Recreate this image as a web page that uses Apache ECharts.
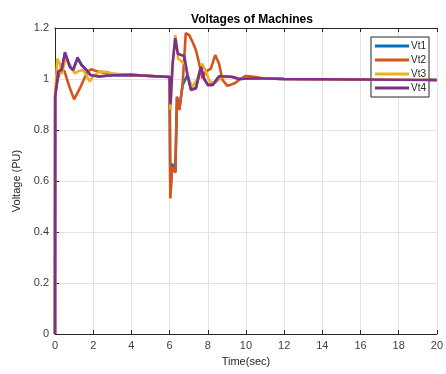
<!DOCTYPE html>
<html><head><meta charset="utf-8">
<script src="https://cdn.jsdelivr.net/npm/echarts@6/dist/echarts.min.js"></script>
<style>html,body{margin:0;padding:0;background:#fff}#c{width:446px;height:374px}</style>
</head><body><div id="c"></div>
<script>
var seriesNames = ['Vt1','Vt2','Vt3','Vt4'];
var colors = ['#0072BD','#D95319','#EDB120','#7E2F8E'];
var xTicks = [0,2,4,6,8,10,12,14,16,18,20];
var yTicks = [0,0.2,0.4,0.6,0.8,1,1.2];

var t1 = [0,0.01,0.17,0.35,0.52,0.78,0.95,1.18,1.39,1.65,1.85,2.3,3,4,5,6.0,6.04,6.14,6.3,6.39,6.51,6.68,6.94,7.12,7.38,7.64,7.81,8.0,8.25,8.59,8.94,9.3,9.64,10.5,12,14,16,18,20];
var v1 = [0,0.93,1.03,1.035,1.1,1.048,1.035,1.08,1.055,1.035,1.016,1.01,1.015,1.016,1.012,1.008,0.545,0.668,0.633,0.93,0.88,0.976,1.016,0.96,0.965,1.045,1.0,0.978,0.978,1.01,1.01,1.008,1.0,1.003,1.0,0.999,0.998,0.997,0.996];

var t2 = [0,0.01,0.15,0.3,0.5,0.75,1.0,1.3,1.5,1.7,1.9,2.2,2.7,3.2,4,5,6.0,6.04,6.13,6.3,6.39,6.51,6.68,6.85,7.03,7.2,7.38,7.55,7.72,7.9,8.16,8.39,8.59,8.77,9.03,9.38,9.64,9.98,10.3,11,12,14,16,18,20];
var v2 = [0,0.95,1.0,1.04,1.03,0.97,0.92,0.963,0.996,1.029,1.038,1.03,1.022,1.018,1.015,1.012,1.008,0.532,0.656,0.633,0.93,0.878,0.976,1.18,1.172,1.146,1.114,1.061,1.002,1.029,1.041,1.094,1.061,0.996,0.973,0.982,0.996,1.012,1.01,1.002,1.0,0.999,0.998,0.997,0.996];

var t3 = [0,0.01,0.12,0.25,0.35,0.55,0.78,1.04,1.22,1.48,1.68,1.82,2.0,2.34,2.78,3.1,4,5,6.0,6.05,6.15,6.3,6.45,6.6,6.8,7.0,7.2,7.45,7.7,7.9,8.1,8.4,8.7,9.2,9.7,10.5,12,14,16,18,20];
var v3 = [0,0.94,1.08,1.06,1.02,1.08,1.055,1.022,1.03,1.035,1.01,0.99,1.01,1.03,1.026,1.02,1.016,1.012,1.008,0.88,1.05,1.173,1.08,1.07,1.06,1.0,0.97,1.0,1.06,1.03,0.99,0.985,1.005,1.01,1.0,1.003,1.0,0.999,0.998,0.997,0.996];

var t4 = [0,0.01,0.17,0.35,0.52,0.78,0.95,1.18,1.39,1.65,1.85,2.3,3,4,5,6.0,6.05,6.16,6.3,6.43,6.6,6.77,6.94,7.12,7.38,7.64,7.81,8.0,8.25,8.59,8.94,9.3,9.64,10.5,12,14,16,18,20];
var v4 = [0,0.93,1.03,1.035,1.105,1.048,1.035,1.085,1.055,1.035,1.016,1.01,1.015,1.016,1.012,1.008,0.9,1.06,1.16,1.1,1.094,1.09,1.016,0.957,0.963,1.049,1.002,0.976,0.976,1.01,1.01,1.008,1.0,1.003,1.0,0.999,0.998,0.997,0.996];

function pairs(t, v){ return t.map(function(x,i){ return [x, v[i]]; }); }
var times = [t1,t2,t3,t4], volts = [v1,v2,v3,v4];

var font = 'Liberation Sans, Arial, sans-serif';
var chart = echarts.init(document.getElementById('c'), null, {renderer:'canvas'});
chart.setOption({
  animation:false,
  backgroundColor:'#fff',
  title:{text:'Voltages of Machines',left:247,textAlign:'center',top:9,
    textStyle:{fontFamily:font,fontSize:12,fontWeight:'bold',color:'#000'}},
  legend:{data:seriesNames,orient:'vertical',right:17,top:37,
    backgroundColor:'#fff',borderColor:'#262626',borderWidth:1,padding:[4,3,4,4],
    itemWidth:34,itemHeight:3,itemGap:4,icon:'rect',
    textStyle:{fontFamily:font,fontSize:10,color:'#262626',padding:[0,0,0,-3]}},
  grid:{left:55,top:28,right:7,bottom:40},
  xAxis:[{type:'value',min:0,max:20,interval:2,
    name:'Time(sec)',nameLocation:'middle',nameGap:22,
    nameTextStyle:{fontFamily:font,fontSize:11,color:'#262626'},
    axisLine:{lineStyle:{color:'#262626',width:1}},
    axisTick:{inside:true,length:4,lineStyle:{color:'#262626'}},
    axisLabel:{fontFamily:font,fontSize:11,color:'#404040',margin:6,
      formatter:function(v){return xTicks.indexOf(v)>=0?String(v):'';}},
    splitLine:{show:true,lineStyle:{color:'#e3e3e3',width:1}}},
   {type:'value',position:'top',min:0,max:20,interval:2,
    axisLine:{show:true,lineStyle:{color:'#262626',width:1}},
    axisTick:{inside:true,length:4,lineStyle:{color:'#262626'}},
    axisLabel:{show:false},splitLine:{show:false}}],
  yAxis:{type:'value',min:0,max:1.2,interval:0.2,
    name:'Voltage (PU)',nameLocation:'middle',nameGap:30,
    nameTextStyle:{fontFamily:font,fontSize:11,color:'#262626'},
    axisLine:{show:true,lineStyle:{color:'#262626',width:1}},
    axisTick:{show:true,inside:true,length:4,lineStyle:{color:'#262626'}},
    axisLabel:{fontFamily:font,fontSize:11,color:'#404040',margin:6,
      formatter:function(v){var r=Math.round(v*10)/10;return yTicks.indexOf(r)>=0?String(r):'';}},
    splitLine:{show:true,lineStyle:{color:'#e3e3e3',width:1}}},
  series:seriesNames.map(function(n,i){
    return {name:n,type:'line',xAxisIndex:0,showSymbol:false,symbol:'none',
      color:colors[i],lineStyle:{color:colors[i],width:2.6},
      data:pairs(times[i],volts[i]),z:2+i};
  })
});
</script></body></html>
